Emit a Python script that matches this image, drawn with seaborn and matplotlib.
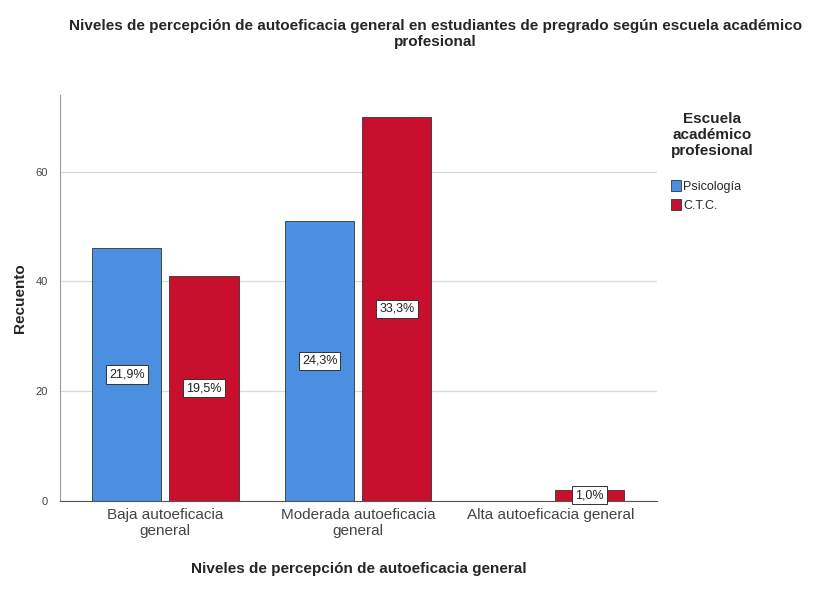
import pandas as pd
import matplotlib.pyplot as plt
import seaborn as sns

# datos
niveles = ["Baja autoeficacia\ngeneral", "Moderada autoeficacia\ngeneral", "Alta autoeficacia general"]
escuelas = ["Psicología", "C.T.C."]
psicologia = [46, 51, 0]
ctc = [41, 70, 2]
pct_psicologia = ["21,9%", "24,3%", ""]
pct_ctc = ["19,5%", "33,3%", "1,0%"]

colores = ["#4a8fe0", "#c8102e"]

df = pd.DataFrame({
    "nivel": niveles * 2,
    "escuela": [escuelas[0]] * 3 + [escuelas[1]] * 3,
    "recuento": psicologia + ctc,
})

sns.set_style("white")
plt.rcParams['font.family'] = ['Liberation Sans', 'DejaVu Sans']

fig = plt.figure(figsize=(8.37, 5.92), dpi=100)
ax = fig.add_axes([0.072, 0.154, 0.713, 0.686])

sns.barplot(data=df, x="nivel", y="recuento", hue="escuela", order=niveles,
            hue_order=escuelas, palette=colores, saturation=1, width=0.8, gap=0.1,
            edgecolor="#333333", linewidth=0.6, ax=ax)

# etiquetas de porcentaje en el centro de cada barra
etiquetas = {escuelas[0]: pct_psicologia, escuelas[1]: pct_ctc}
for cont, esc in zip(ax.containers, escuelas):
    for bar, txt in zip(cont, etiquetas[esc]):
        if not txt:
            continue
        h = bar.get_height()
        ax.text(bar.get_x() + bar.get_width() / 2, h / 2, txt,
                ha="center", va="center", fontsize=9, color="#222222",
                bbox=dict(boxstyle="square,pad=0.25", fc="white", ec="#333333", lw=0.7))

ax.set_xlim(-0.544, 2.549)
ax.set_ylim(0, 74)
ax.set_yticks([0, 20, 40, 60])
ax.yaxis.grid(True, color="#d9d9d9", linewidth=0.9)
ax.set_axisbelow(True)
for s in ["top", "right"]:
    ax.spines[s].set_visible(False)
ax.spines["left"].set_color("#999999")
ax.spines["bottom"].set_color("#555555")
ax.tick_params(axis="y", labelsize=8, colors="#444444", length=0, pad=9)
ax.tick_params(axis="x", labelsize=11, colors="#444444", length=0, pad=5)

ax.set_xlabel("Niveles de percepción de autoeficacia general", fontsize=11,
              fontweight="bold", labelpad=17)
ax.set_ylabel("Recuento", fontsize=11, fontweight="bold", labelpad=6)

fig.suptitle("Niveles de percepción de autoeficacia general en estudiantes de pregrado según escuela académico\nprofesional",
             fontsize=11, fontweight="bold", y=0.968, x=0.52, linespacing=1.15)

leg = ax.legend(title="Escuela\nacadémico\nprofesional\n", loc="upper left",
                bbox_to_anchor=(1.015, 0.97), frameon=False, fontsize=9,
                title_fontproperties={"weight": "bold", "size": 11},
                handlelength=0.8, handleheight=1.0, handletextpad=0.2,
                labelspacing=0.45, borderaxespad=0)
leg._legend_box.align = "left"
leg.get_title().set_multialignment("center")

fig.savefig("out.png", dpi=100)
